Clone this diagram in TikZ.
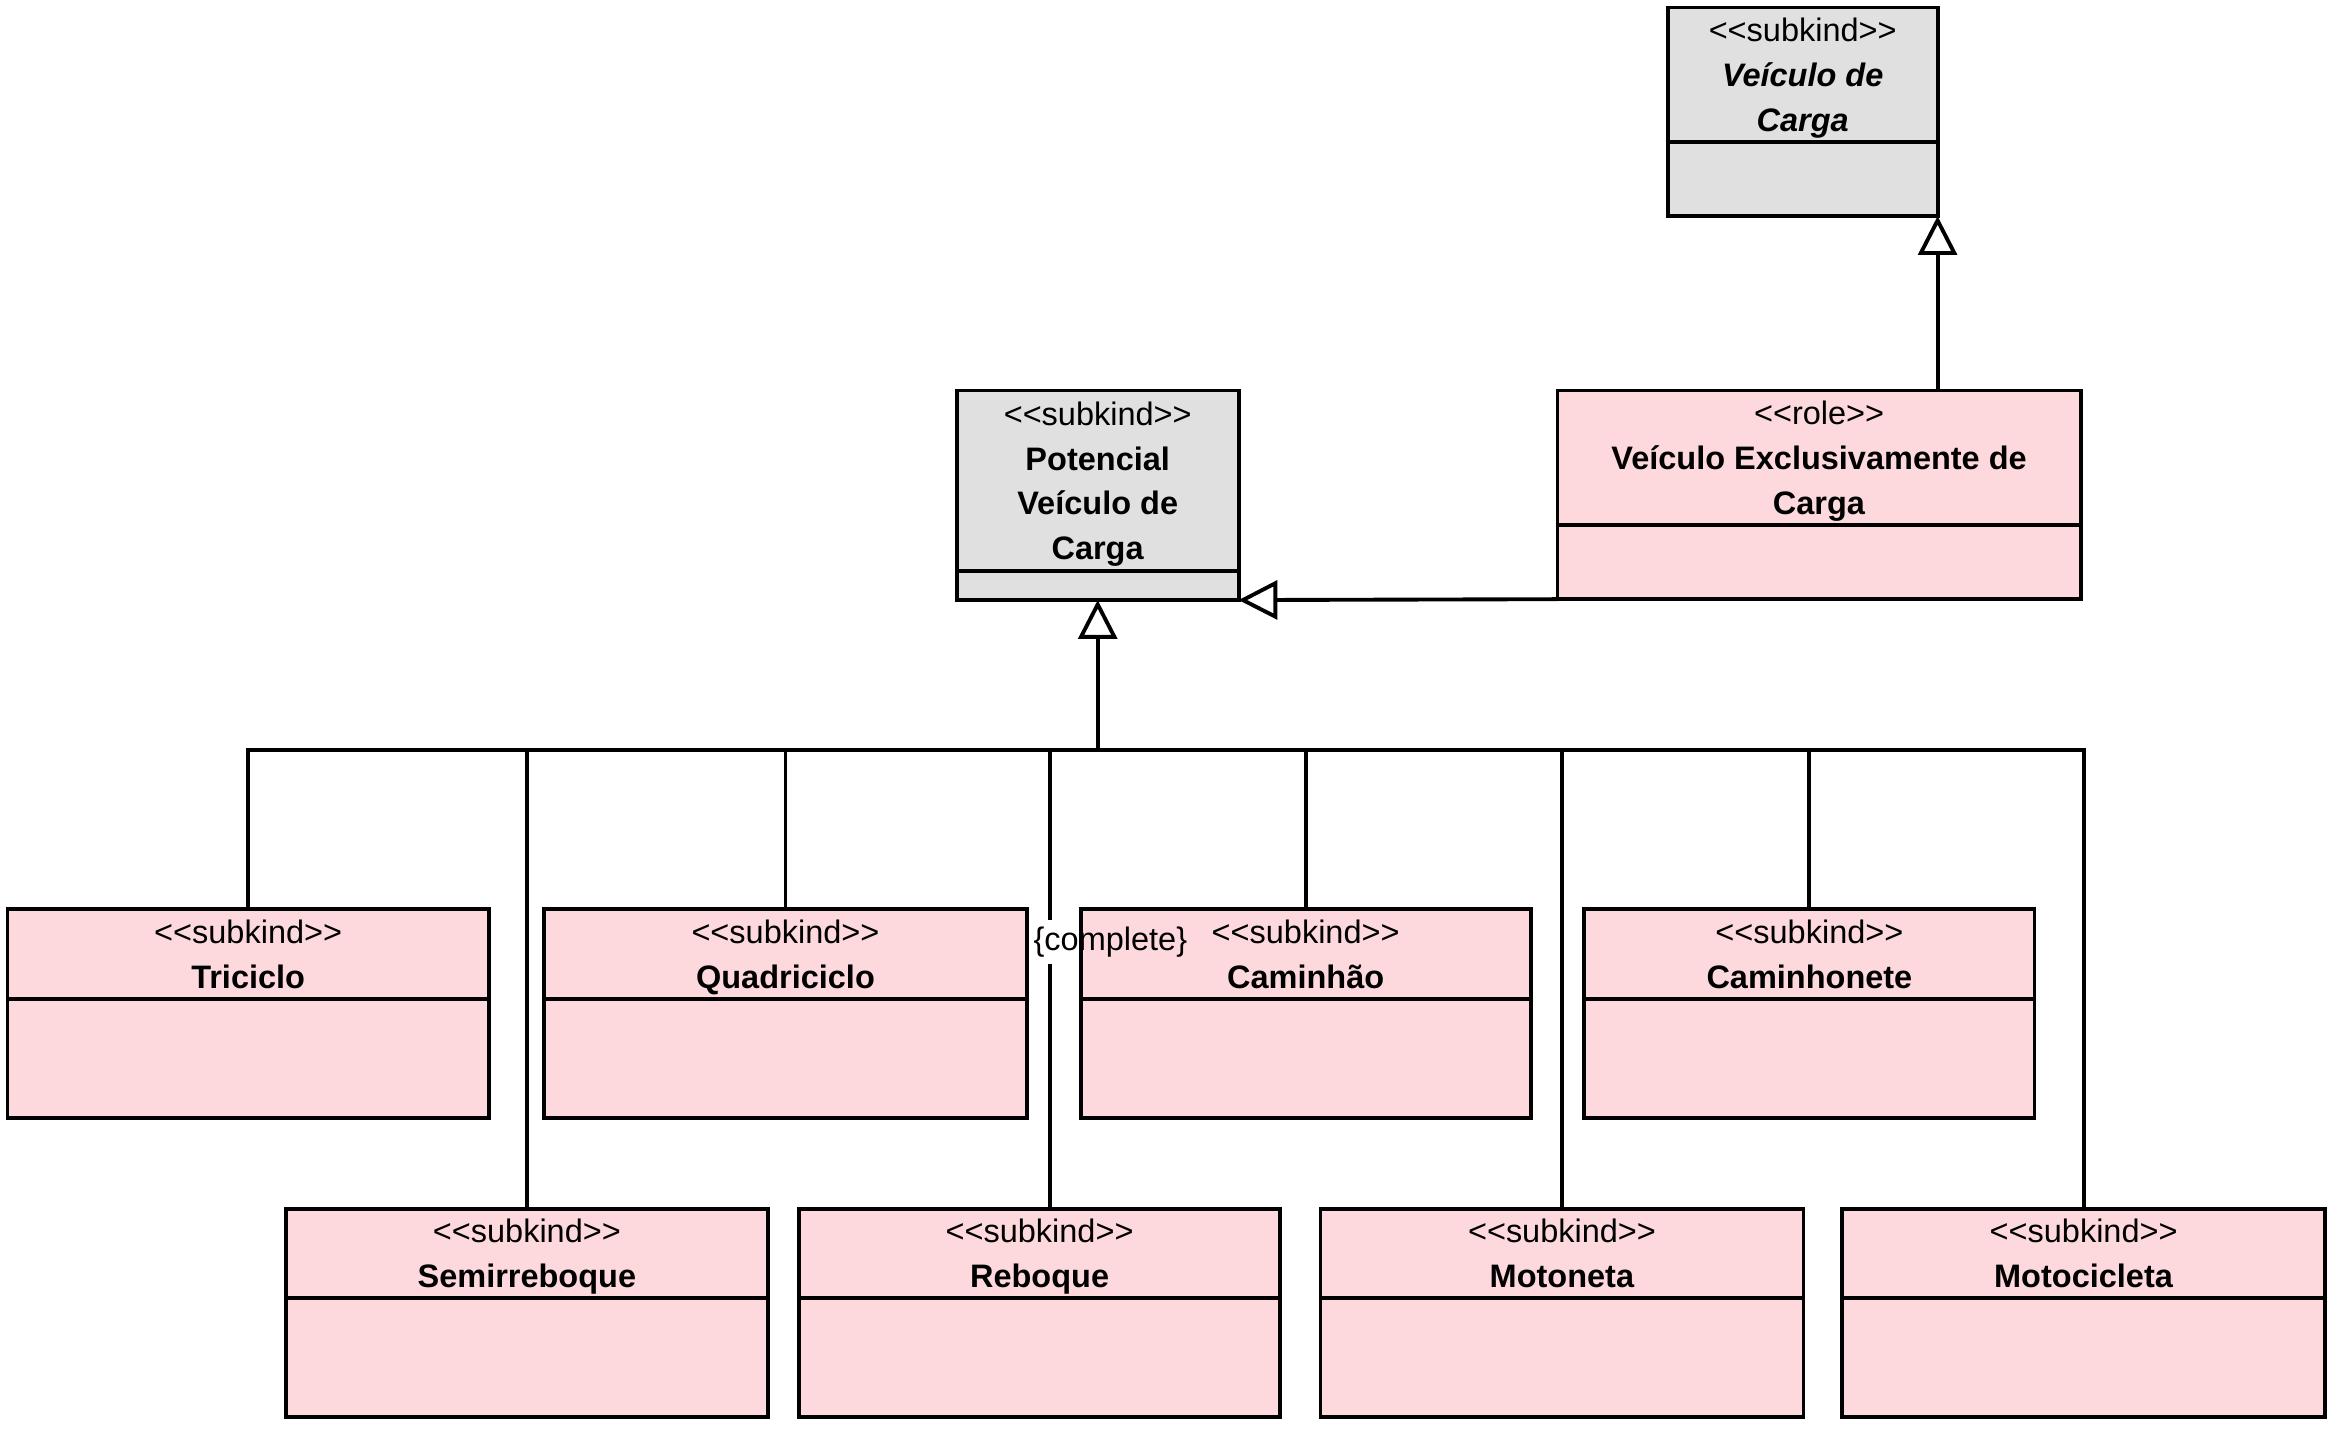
\documentclass[tikz,border=0pt]{standalone}
\usepackage{fontspec}
\newfontfamily\umlfont{Liberation Sans}
\usetikzlibrary{positioning, arrows.meta}
\definecolor{rosa}{RGB}{253,217,221}
\definecolor{cinza}{RGB}{224,224,224}
\tikzset{classe/.style={draw,line width=1.3pt,outer sep=0pt,inner sep=0pt,align=center,text depth=0pt,font=\umlfont\fontsize{10.9}{15}\selectfont},
         rosabox/.style={classe,fill=rosa},
         cinzabox/.style={classe,fill=cinza},
         ligacao/.style={line width=1.3pt},
         gen/.style={ligacao,-{Triangle[length=13pt,width=13pt,fill=white]}},
         restricao/.style={inner sep=2pt,font=\umlfont\fontsize{10.9}{15}\selectfont},
        }

\begin{document}
\begin{tikzpicture}[x=0.5pt,y=-0.5pt]
        \useasboundingbox(0,0)rectangle(1568,960);

        \node[cinzabox,anchor=north west,minimum width=90.5pt,minimum height=45pt](vdc)at(1119,5){<<subkind>>\\\textbf{\textit{Veículo de}}\\\textbf{\textit{Carga}}};
        \node[cinzabox,minimum width=90.5pt,minimum height=25pt,below=0pt of vdc](vdca){};

        \node[cinzabox,anchor=north west,minimum width=94.5pt,minimum height=60.5pt](pvc)at(642,262){<<subkind>>\\\textbf{Potencial}\\\textbf{Veículo de}\\\textbf{Carga}};
        \node[cinzabox,minimum width=94.5pt,minimum height=9.8pt,below=0pt of pvc](pvca){};

        \node[rosabox,anchor=north west,minimum width=175.5pt,minimum height=45pt](vec)at(1045,262){<<role>>\\\textbf{Veículo Exclusivamente de}\\\textbf{Carga}};
        \node[rosabox,minimum width=175.5pt,minimum height=25pt,below=0pt of vec](veca){};

        \node[rosabox,anchor=north west,minimum width=161.5pt,minimum height=30pt](tri)at(5,610){<<subkind>>\\\textbf{Triciclo}};
        \node[rosabox,minimum width=161.5pt,minimum height=40pt,below=0pt of tri](tria){};
        \node[rosabox,anchor=north west,minimum width=162pt,minimum height=30pt](qua)at(365,610){<<subkind>>\\\textbf{Quadriciclo}};
        \node[rosabox,minimum width=162pt,minimum height=40pt,below=0pt of qua](quaa){};
        \node[rosabox,anchor=north west,minimum width=151pt,minimum height=30pt](cam)at(725,610){<<subkind>>\\\textbf{Caminhão}};
        \node[rosabox,minimum width=151pt,minimum height=40pt,below=0pt of cam](cama){};
        \node[rosabox,anchor=north west,minimum width=151pt,minimum height=30pt](cmh)at(1063,610){<<subkind>>\\\textbf{Caminhonete}};
        \node[rosabox,minimum width=151pt,minimum height=40pt,below=0pt of cmh](cmha){};

        \node[rosabox,anchor=north west,minimum width=161.5pt,minimum height=30pt](sem)at(192,811){<<subkind>>\\\textbf{Semirreboque}};
        \node[rosabox,minimum width=161.5pt,minimum height=40pt,below=0pt of sem](sema){};
        \node[rosabox,anchor=north west,minimum width=161.5pt,minimum height=30pt](reb)at(536,811){<<subkind>>\\\textbf{Reboque}};
        \node[rosabox,minimum width=161.5pt,minimum height=40pt,below=0pt of reb](reba){};
        \node[rosabox,anchor=north west,minimum width=162pt,minimum height=30pt](mtn)at(886,811){<<subkind>>\\\textbf{Motoneta}};
        \node[rosabox,minimum width=162pt,minimum height=40pt,below=0pt of mtn](mtna){};
        \node[rosabox,anchor=north west,minimum width=162pt,minimum height=30pt](mtc)at(1236,811){<<subkind>>\\\textbf{Motocicleta}};
        \node[rosabox,minimum width=162pt,minimum height=40pt,below=0pt of mtc](mtca){};

        \draw[gen](vec.north -| vdca.south east)--(vdca.south east);
        \draw[gen](veca.south west)--(pvca.south east);

        \coordinate[below=50.2pt of pvca.south](gs);
        \coordinate(rebtop)at([xshift=3.5pt]reb.north);
        \node[restricao](cmp)at(745,632){\{complete\}};

        \draw[gen](gs)--(pvca.south);
        \draw[ligacao](tri.north)--(gs -| tri.north)--(gs -| mtc.north)--(mtc.north);
        \draw[ligacao](gs -| sem.north)--(sem.north);
        \draw[ligacao](gs -| qua.north)--(qua.north);
        \draw[ligacao](gs -| rebtop)--(cmp.north -| rebtop);
        \draw[ligacao](cmp.south -| rebtop)--(rebtop);
        \draw[ligacao](gs -| cam.north)--(cam.north);
        \draw[ligacao](gs -| mtn.north)--(mtn.north);
        \draw[ligacao](gs -| cmh.north)--(cmh.north);
\end{tikzpicture}
\end{document}
